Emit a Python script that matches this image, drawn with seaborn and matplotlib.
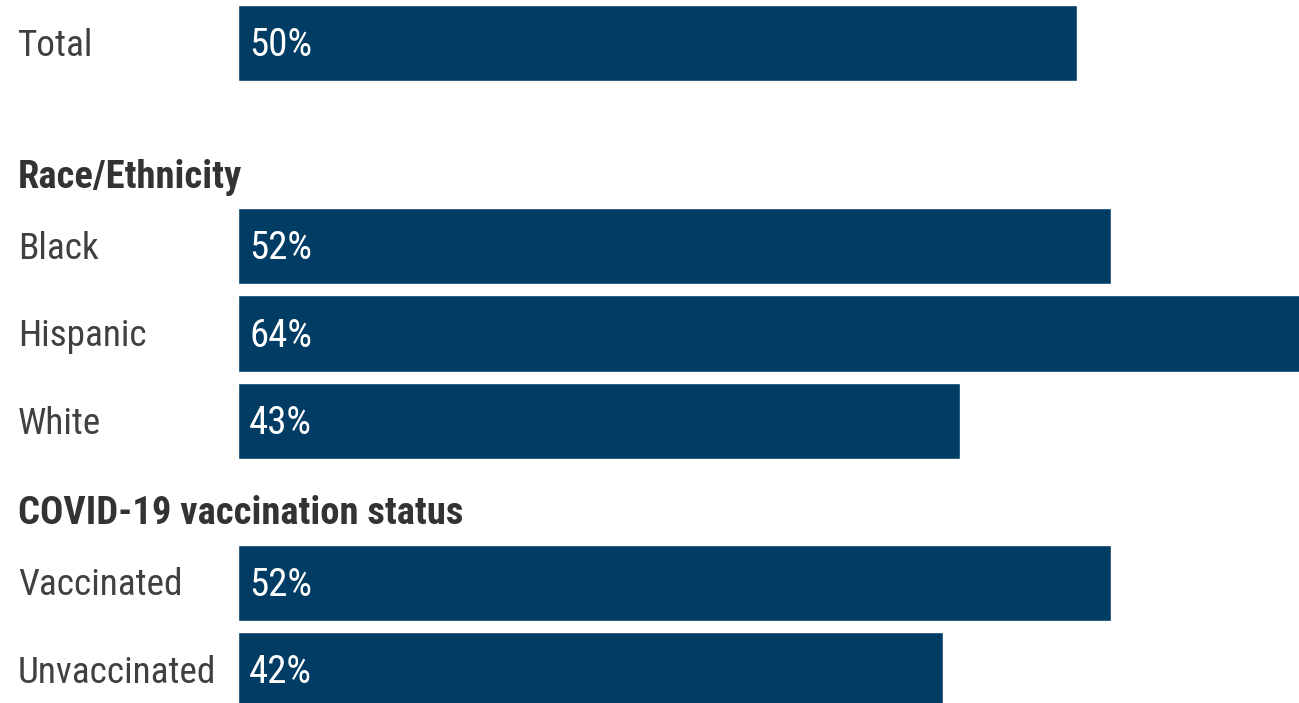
import matplotlib
matplotlib.use("Agg")
import matplotlib.pyplot as plt
from matplotlib import font_manager
import pandas as pd
import seaborn as sns

categories = ["Total", "Black", "Hispanic", "White", "Vaccinated", "Unvaccinated"]
values = [50, 52, 64, 43, 52, 42]
# row positions (in bar pitch units), gaps leave room for the group headers
rows = [0, 2.32, 3.32, 4.32, 6.17, 7.17]
headers = ["Race/Ethnicity", "COVID-19 vaccination status"]
header_rows = [1.51, 5.35]

df = pd.DataFrame({"category": categories, "value": values, "row": rows})

sns.set_theme(style="white")

# look for a narrow sans (the reference text is horizontally condensed)
fonts = font_manager.fontManager.ttflist
narrow = sorted({f.name for f in fonts if "Narrow" in f.name or "Condensed" in f.name})
bold_ok = {f.name for f in fonts if f.weight in (700, "bold") and f.style == "normal"}
prefer = ["Liberation Sans Narrow", "Arial Narrow", "Roboto Condensed"]
fam = next((n for n in prefer if n in narrow), None)
if fam is None:
    fam = next((n for n in narrow if n in bold_ok), narrow[0] if narrow else None)
if fam:
    lab_fs, val_fs = 26.8, 28
    head_fam = fam if fam in bold_ok else "Liberation Sans"
    head_fs = 27.8 if fam in bold_ok else 23.5
else:
    fam, head_fam = "Liberation Sans", "Liberation Sans"
    lab_fs = val_fs = head_fs = 23.5
plt.rcParams["font.family"] = [fam, "DejaVu Sans"]

fig = plt.figure(figsize=(12.99, 7.03), dpi=100)
ax = fig.add_axes([0, 0, 1, 1])

sns.barplot(data=df, x="value", y="row", orient="h", native_scale=True,
            color="#003c64", saturation=1, width=0.87, ax=ax)

px = 16.78  # pixels per percentage point
ax.set_xlim(-238 / px, (1299 - 238) / px)
ax.set_ylim(7.543, -0.491)
ax.axis("off")

lab_x = (18 - 238) / px
val_x = (249 - 238) / px
dy = 0.03
for _, r in df.iterrows():
    ax.text(lab_x, r["row"] + dy, r["category"], va="center", ha="left",
            fontsize=lab_fs, color="#404040")
    ax.text(val_x, r["row"] + dy, f"{r['value']}%", va="center", ha="left",
            fontsize=val_fs, color="white")
for h, y in zip(headers, header_rows):
    ax.text(lab_x, y + dy, h, va="center", ha="left", fontsize=head_fs,
            family=[head_fam, "DejaVu Sans"], fontweight="bold", color="#333333")

fig.savefig("out.png", dpi=100)
